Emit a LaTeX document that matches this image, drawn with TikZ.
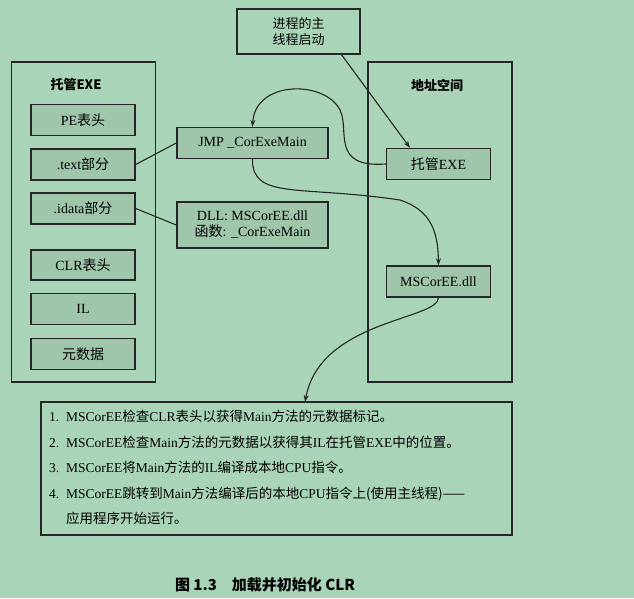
\documentclass[tikz,border=0pt]{standalone}
\usepackage{fontspec}
\setmainfont{Liberation Serif}
\newfontfamily\cjk{Noto Sans CJK SC}
\usetikzlibrary{arrows.meta}
\definecolor{bg}{HTML}{A9D4B7}
\definecolor{boxfill}{HTML}{9FC6AB}
\tikzset{
  cont/.style={draw=black!85,line width=1.4pt,fill=bg,inner sep=0},
  ibox/.style={draw=black!85,line width=1.4pt,fill=boxfill,inner sep=0,font=\fontsize{14}{15}\selectfont},
  conn/.style={line width=1.1pt,black!85},
  arr/.style={conn,-{Stealth[length=7pt,width=5pt]}}
}
\begin{document}
\begin{tikzpicture}[x=1pt,y=-1pt]
\fill[bg] (0,0) rectangle (634,598);
\useasboundingbox (0,0) rectangle (634,598);
% containers
\node[cont,minimum width=144pt,minimum height=320pt] (lc) at (83.5,222) {};
\node[cont,minimum width=144pt,minimum height=320pt] (rc) at (440,222) {};
\node[font=\cjk\bfseries\fontsize{13}{14}\selectfont] (lt) at (76,85) {托管EXE};
\node[font=\cjk\bfseries\fontsize{13}{14}\selectfont] (rt) at (437,85) {地址空间};
% left inner boxes
\node[ibox,minimum width=104pt,minimum height=31pt] (pe) at (83,120) {PE{\cjk 表头}};
\node[ibox,minimum width=104pt,minimum height=31pt] (text) at (83,164.5) {.text{\cjk 部分}};
\node[ibox,minimum width=104pt,minimum height=31pt] (idata) at (83,208.5) {.idata{\cjk 部分}};
\node[ibox,minimum width=104pt,minimum height=30pt] (clr) at (83,265) {CLR{\cjk 表头}};
\node[ibox,minimum width=104pt,minimum height=31pt] (il) at (83,309) {IL};
\node[ibox,minimum width=104pt,minimum height=31pt] (md) at (83,354) {\cjk 元数据};
% middle
\node[ibox,minimum width=151pt,minimum height=31pt] (jmp) at (252.5,143) {JMP \_CorExeMain};
\node[ibox,minimum width=151pt,minimum height=46pt,align=center,font=\fontsize{14}{16}\selectfont] (dll) at (252.5,225) {DLL: MSCorEE.dll\\{\cjk 函数}: \_CorExeMain};
\node[draw=black!85,line width=1.4pt,fill=bg,minimum width=123pt,minimum height=45pt,align=center,font=\cjk\fontsize{13}{16}\selectfont] (top) at (298.5,31.5) {进程的主\\线程启动};
% right inner
\node[ibox,minimum width=104pt,minimum height=31pt] (exe) at (438.5,164) {{\cjk 托管}EXE};
\node[ibox,minimum width=104pt,minimum height=31pt] (ms) at (438.5,281.5) {MSCorEE.dll};
% bottom box
\node[draw=black!85,line width=1.6pt,fill=bg,minimum width=471pt,minimum height=133pt] (bot) at (276.5,468.5) {};
\node[anchor=north west,align=left,font=\fontsize{13.5}{25.5}\selectfont,inner sep=0] (steps) at (49,410) {%
1.\enspace MSCorEE{\cjk 检查}CLR{\cjk 表头以获得}Main{\cjk 方法的元数据标记。}\\
2.\enspace MSCorEE{\cjk 检查}Main{\cjk 方法的元数据以获得其}IL{\cjk 在托管}EXE{\cjk 中的位置。}\\
3.\enspace MSCorEE{\cjk 将}Main{\cjk 方法的}IL{\cjk 编译成本地}CPU{\cjk 指令。}\\
4.\enspace MSCorEE{\cjk 跳转到}Main{\cjk 方法编译后的本地}CPU{\cjk 指令上(使用主线程)——}\\
\phantom{4.\enspace}{\cjk 应用程序开始运行。}};
\node[font=\cjk\bfseries\fontsize{15}{17}\selectfont] (cap) at (265,585) {图 1.3\quad 加载并初始化 CLR};
% connectors
\draw[conn] (text.east) -- (jmp.west);
\draw[conn] (idata.east) -- (dll.west);
\draw[arr] (341,54) -- (exe.north -| 410,0);
\draw[arr] (exe.west) .. controls (330,168) and (350,130) .. (340,110) .. controls (325,80) and (255,80) .. (jmp.north);
\draw[arr] (jmp.south) .. controls (252,200) and (300,185) .. (400,200) .. controls (430,210) and (438,230) .. (ms.north);
\draw[arr] (ms.south) .. controls (438,320) and (320,320) .. (305,402);
\end{tikzpicture}
\end{document}
